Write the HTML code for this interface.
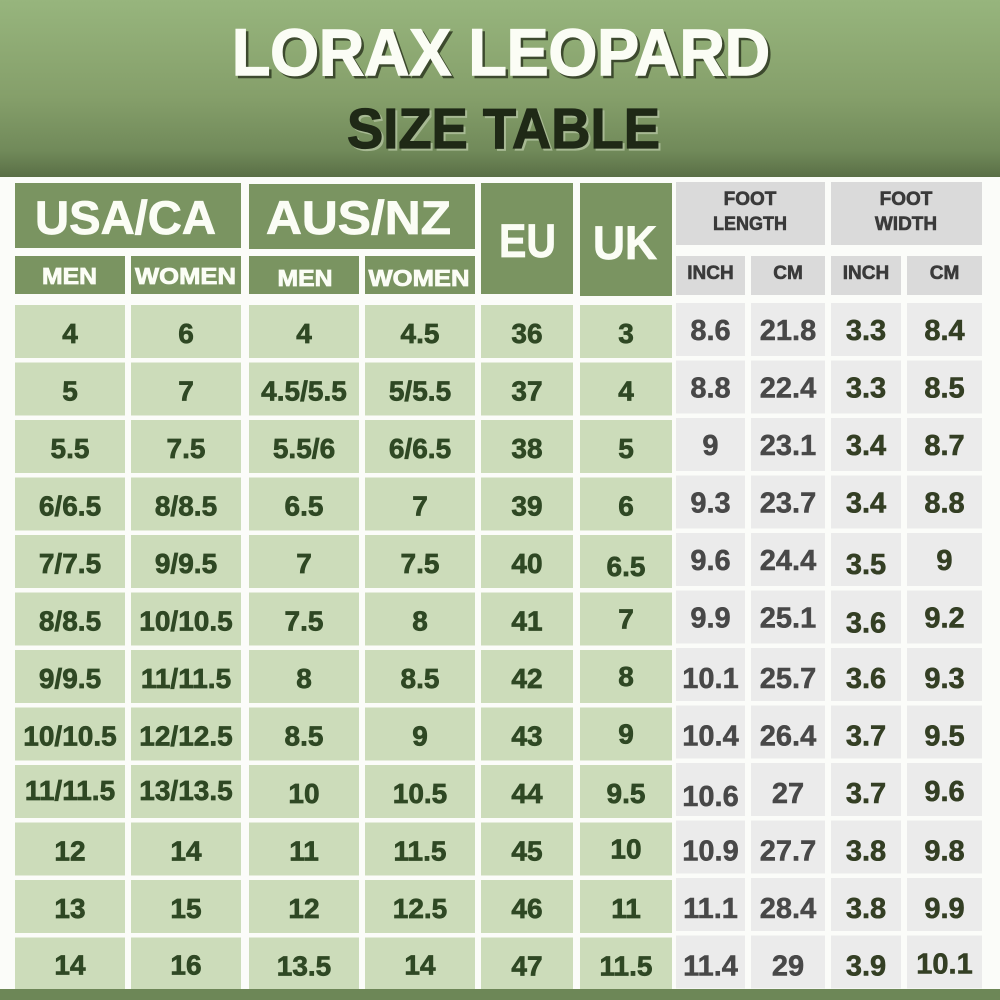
<!DOCTYPE html>
<html><head><meta charset="utf-8"><style>
html,body{margin:0;padding:0;background:#fbfcf9;}
svg{display:block;}
.gb{fill:#7a9461}
.lc{fill:#ccdcba}
.gh{fill:#dadada}
.gc{fill:#ebebeb}
text{font-family:"Liberation Sans",sans-serif;font-weight:bold;text-anchor:middle;}
.t1{font-size:28px;fill:#2f4824;stroke:#2f4824;stroke-width:0.7px}
.t2{font-size:29px;fill:#484848;stroke:#484848;stroke-width:0.5px}
.t3{font-size:29px;fill:#343f24;stroke:#343f24;stroke-width:0.6px}
.hw{fill:#fbfdf5;stroke:#fbfdf5;stroke-width:0.8px}
.hs{font-size:19px;fill:#3a3a3a;stroke:#3a3a3a;stroke-width:0.6px}
</style></head><body>
<svg width="1000" height="1000" viewBox="0 0 1000 1000" xmlns="http://www.w3.org/2000/svg">
<defs>
<linearGradient id="hg" x1="0" y1="0" x2="0" y2="1">
<stop offset="0" stop-color="#97b57d"/>
<stop offset="0.55" stop-color="#859f6a"/>
<stop offset="0.85" stop-color="#718a5a"/>
<stop offset="1" stop-color="#5a6f46"/>
</linearGradient>
<g id="rw">
<rect x="15" y="0" width="110" height="53" class="lc"/>
<rect x="131" y="0" width="110" height="53" class="lc"/>
<rect x="249" y="0" width="110" height="53" class="lc"/>
<rect x="365" y="0" width="110" height="53" class="lc"/>
<rect x="481" y="0" width="92" height="53" class="lc"/>
<rect x="580" y="0" width="92" height="53" class="lc"/>
<rect x="676" y="-2" width="69" height="53" class="gc"/>
<rect x="751" y="-2" width="74" height="53" class="gc"/>
<rect x="831" y="-2" width="70" height="53" class="gc"/>
<rect x="907" y="-2" width="75" height="53" class="gc"/>
</g>
</defs>
<rect x="0" y="0" width="1000" height="1000" fill="#fbfcf9"/>
<rect x="0" y="0" width="1000" height="177" fill="url(#hg)"/>
<text x="503.5" y="77.5" font-size="66" fill="#3d4a2e" stroke="#3d4a2e" stroke-width="1.5" textLength="538" lengthAdjust="spacingAndGlyphs">LORAX LEOPARD</text>
<text x="501" y="75" font-size="66" fill="#fbfdf5" stroke="#fbfdf5" stroke-width="1.5" textLength="538" lengthAdjust="spacingAndGlyphs">LORAX LEOPARD</text>
<text x="505.5" y="150" font-size="57" fill="#a7b993" stroke="#a7b993" stroke-width="1.2" textLength="313" lengthAdjust="spacingAndGlyphs">SIZE TABLE</text>
<text x="503.5" y="148" font-size="57" fill="#1f2916" stroke="#1f2916" stroke-width="1.2" textLength="313" lengthAdjust="spacingAndGlyphs">SIZE TABLE</text>

<rect x="15" y="183" width="226" height="65" class="gb"/>
<rect x="249" y="184" width="226" height="65" class="gb"/>
<rect x="15" y="256" width="110" height="38" class="gb"/>
<rect x="131" y="256" width="110" height="38" class="gb"/>
<rect x="249" y="256" width="110" height="38" class="gb"/>
<rect x="365" y="256" width="110" height="38" class="gb"/>
<rect x="481" y="183" width="92" height="111" class="gb"/>
<rect x="580" y="183" width="92" height="113" class="gb"/>
<rect x="676" y="182" width="149" height="63" class="gh"/>
<rect x="831" y="182" width="151" height="63" class="gh"/>
<rect x="676" y="256" width="69" height="39" class="gh"/>
<rect x="751" y="256" width="74" height="39" class="gh"/>
<rect x="831" y="256" width="70" height="39" class="gh"/>
<rect x="907" y="256" width="75" height="39" class="gh"/>

<text x="125.5" y="234" font-size="47" class="hw" textLength="181" lengthAdjust="spacingAndGlyphs">USA/CA</text>
<text x="358.5" y="234" font-size="47" class="hw" textLength="185" lengthAdjust="spacingAndGlyphs">AUS/NZ</text>
<text x="527.5" y="257" font-size="47" class="hw" textLength="57" lengthAdjust="spacingAndGlyphs">EU</text>
<text x="625" y="259" font-size="47" class="hw" textLength="64" lengthAdjust="spacingAndGlyphs">UK</text>
<text x="69.5" y="284" font-size="23" class="hw" textLength="55" lengthAdjust="spacingAndGlyphs">MEN</text>
<text x="185.5" y="284" font-size="23" class="hw" textLength="101" lengthAdjust="spacingAndGlyphs">WOMEN</text>
<text x="305" y="286" font-size="23" class="hw" textLength="55" lengthAdjust="spacingAndGlyphs">MEN</text>
<text x="419" y="286" font-size="23" class="hw" textLength="101" lengthAdjust="spacingAndGlyphs">WOMEN</text>
<text x="750" y="205" class="hs">FOOT</text>
<text x="750" y="230" class="hs" textLength="74" lengthAdjust="spacingAndGlyphs">LENGTH</text>
<text x="906" y="205" class="hs">FOOT</text>
<text x="906" y="230" class="hs">WIDTH</text>
<text x="710.5" y="279" class="hs">INCH</text>
<text x="788" y="279" class="hs">CM</text>
<text x="866" y="279" class="hs">INCH</text>
<text x="944.5" y="279" class="hs">CM</text>

<g transform="translate(0,305)"><use href="#rw"/>
<text x="70" y="38" class="t1">4</text><text x="186" y="38" class="t1">6</text><text x="304" y="38" class="t1">4</text><text x="420" y="38" class="t1">4.5</text><text x="527" y="38" class="t1">36</text><text x="626" y="38" class="t1">3</text><text x="710.5" y="35" class="t2">8.6</text><text x="788" y="35" class="t2">21.8</text><text x="866" y="35" class="t3">3.3</text><text x="944.5" y="35" class="t3">8.4</text></g>
<g transform="translate(0,362.5)"><use href="#rw"/>
<text x="70" y="38" class="t1">5</text><text x="186" y="38" class="t1">7</text><text x="304" y="38" class="t1">4.5/5.5</text><text x="420" y="38" class="t1">5/5.5</text><text x="527" y="38" class="t1">37</text><text x="626" y="38" class="t1">4</text><text x="710.5" y="35" class="t2">8.8</text><text x="788" y="35" class="t2">22.4</text><text x="866" y="35" class="t3">3.3</text><text x="944.5" y="35" class="t3">8.5</text></g>
<g transform="translate(0,420)"><use href="#rw"/>
<text x="70" y="38" class="t1">5.5</text><text x="186" y="38" class="t1">7.5</text><text x="304" y="38" class="t1">5.5/6</text><text x="420" y="38" class="t1">6/6.5</text><text x="527" y="38" class="t1">38</text><text x="626" y="38" class="t1">5</text><text x="710.5" y="35" class="t2">9</text><text x="788" y="35" class="t2">23.1</text><text x="866" y="35" class="t3">3.4</text><text x="944.5" y="35" class="t3">8.7</text></g>
<g transform="translate(0,477.5)"><use href="#rw"/>
<text x="70" y="38" class="t1">6/6.5</text><text x="186" y="38" class="t1">8/8.5</text><text x="304" y="38" class="t1">6.5</text><text x="420" y="38" class="t1">7</text><text x="527" y="38" class="t1">39</text><text x="626" y="38" class="t1">6</text><text x="710.5" y="35" class="t2">9.3</text><text x="788" y="35" class="t2">23.7</text><text x="866" y="35" class="t3">3.4</text><text x="944.5" y="35" class="t3">8.8</text></g>
<g transform="translate(0,535)"><use href="#rw"/>
<text x="70" y="38" class="t1">7/7.5</text><text x="186" y="38" class="t1">9/9.5</text><text x="304" y="38" class="t1">7</text><text x="420" y="38" class="t1">7.5</text><text x="527" y="38" class="t1">40</text><text x="626" y="41" class="t1">6.5</text><text x="710.5" y="35" class="t2">9.6</text><text x="788" y="35" class="t2">24.4</text><text x="866" y="39" class="t3">3.5</text><text x="944.5" y="35" class="t3">9</text></g>
<g transform="translate(0,592.5)"><use href="#rw"/>
<text x="70" y="38" class="t1">8/8.5</text><text x="186" y="38" class="t1">10/10.5</text><text x="304" y="38" class="t1">7.5</text><text x="420" y="38" class="t1">8</text><text x="527" y="38" class="t1">41</text><text x="626" y="36" class="t1">7</text><text x="710.5" y="35" class="t2">9.9</text><text x="788" y="35" class="t2">25.1</text><text x="866" y="40" class="t3">3.6</text><text x="944.5" y="35" class="t3">9.2</text></g>
<g transform="translate(0,650)"><use href="#rw"/>
<text x="70" y="38" class="t1">9/9.5</text><text x="186" y="38" class="t1">11/11.5</text><text x="304" y="38" class="t1">8</text><text x="420" y="38" class="t1">8.5</text><text x="527" y="38" class="t1">42</text><text x="626" y="36" class="t1">8</text><text x="710.5" y="38" class="t2">10.1</text><text x="788" y="38" class="t2">25.7</text><text x="866" y="38" class="t3">3.6</text><text x="944.5" y="38" class="t3">9.3</text></g>
<g transform="translate(0,707.5)"><use href="#rw"/>
<text x="70" y="38" class="t1">10/10.5</text><text x="186" y="38" class="t1">12/12.5</text><text x="304" y="38" class="t1">8.5</text><text x="420" y="38" class="t1">9</text><text x="527" y="38" class="t1">43</text><text x="626" y="36" class="t1">9</text><text x="710.5" y="38" class="t2">10.4</text><text x="788" y="38" class="t2">26.4</text><text x="866" y="38" class="t3">3.7</text><text x="944.5" y="38" class="t3">9.5</text></g>
<g transform="translate(0,765)"><use href="#rw"/>
<text x="70" y="35" class="t1">11/11.5</text><text x="186" y="35" class="t1">13/13.5</text><text x="304" y="38" class="t1">10</text><text x="420" y="38" class="t1">10.5</text><text x="527" y="38" class="t1">44</text><text x="626" y="38" class="t1">9.5</text><text x="710.5" y="41" class="t2">10.6</text><text x="788" y="38" class="t2">27</text><text x="866" y="38" class="t3">3.7</text><text x="944.5" y="36" class="t3">9.6</text></g>
<g transform="translate(0,822.5)"><use href="#rw"/>
<text x="70" y="38" class="t1">12</text><text x="186" y="38" class="t1">14</text><text x="304" y="38" class="t1">11</text><text x="420" y="38" class="t1">11.5</text><text x="527" y="38" class="t1">45</text><text x="626" y="36" class="t1">10</text><text x="710.5" y="38" class="t2">10.9</text><text x="788" y="38" class="t2">27.7</text><text x="866" y="38" class="t3">3.8</text><text x="944.5" y="38" class="t3">9.8</text></g>
<g transform="translate(0,880)"><use href="#rw"/>
<text x="70" y="38" class="t1">13</text><text x="186" y="38" class="t1">15</text><text x="304" y="38" class="t1">12</text><text x="420" y="38" class="t1">12.5</text><text x="527" y="38" class="t1">46</text><text x="626" y="38" class="t1">11</text><text x="710.5" y="38" class="t2">11.1</text><text x="788" y="38" class="t2">28.4</text><text x="866" y="38" class="t3">3.8</text><text x="944.5" y="38" class="t3">9.9</text></g>
<g transform="translate(0,937.5)"><use href="#rw"/>
<text x="70" y="37" class="t1">14</text><text x="186" y="37" class="t1">16</text><text x="304" y="38" class="t1">13.5</text><text x="420" y="37" class="t1">14</text><text x="527" y="38" class="t1">47</text><text x="626" y="38" class="t1">11.5</text><text x="710.5" y="38" class="t2">11.4</text><text x="788" y="38" class="t2">29</text><text x="866" y="38" class="t3">3.9</text><text x="944.5" y="36" class="t3">10.1</text></g>

<rect x="0" y="989" width="1000" height="11" fill="#6d8757"/>
</svg>
</body></html>
